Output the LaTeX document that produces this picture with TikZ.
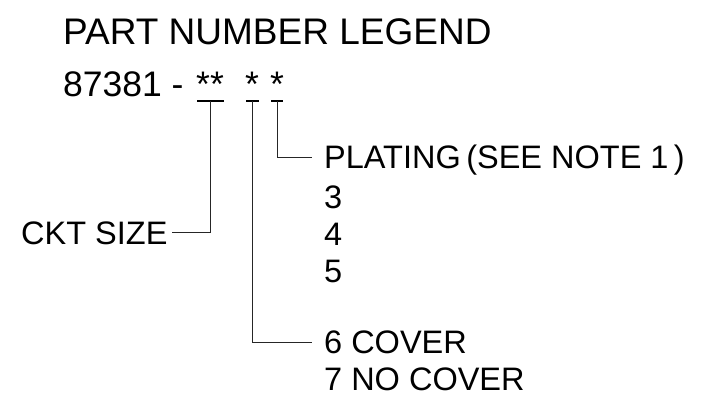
\documentclass[tikz,border=0pt]{standalone}
\usepackage{fontspec}
\setmainfont{Liberation Sans}
\begin{document}
\begin{tikzpicture}[x=1pt,y=-1pt,
  big/.style={inner sep=0pt, anchor=base west, font=\fontsize{35.5}{40}\selectfont},
  ttl/.style={inner sep=0pt, anchor=base west, font=\fontsize{37}{42}\selectfont},
  lbl/.style={inner sep=0pt, anchor=base west, font=\fontsize{32.5}{38}\selectfont},
  lead/.style={draw=black!85, line width=0.9pt},
  bar/.style={draw=black, line width=1.3pt}]
\useasboundingbox (0,0) rectangle (714,406);
% title and part number
\node[ttl] (title) at (63,45) {PART NUMBER LEGEND};
\node[big] (pn) at (63,97) {87381 -};
\node[big] (s1) at (196,97) {**};
\node[big] (s2) at (245,97) {*};
\node[big] (s3) at (270,97) {*};
% underline bars
\coordinate (b1l) at (197,101); \coordinate (b1r) at (224,101);
\coordinate (b2l) at (246,101); \coordinate (b2r) at (259,101);
\coordinate (b3l) at (271,101); \coordinate (b3r) at (283,101);
\draw[bar] (b1l) -- (b1r);
\draw[bar] (b2l) -- (b2r);
\draw[bar] (b3l) -- (b3r);
\coordinate (u1) at (210.5,101);
\coordinate (u2) at (252.5,101);
\coordinate (u3) at (277,101);
% labels
\node[lbl] (plating) at (324,169) {PLATING\,(SEE NOTE 1\,)};
\node[lbl] (n3) at (324,208) {3};
\node[lbl] (n4) at (324,245) {4};
\node[lbl] (n5) at (324,282) {5};
\node[lbl] (ckt) at (21,244) {CKT SIZE};
\node[lbl] (c6) at (324,353) {6 COVER};
\node[lbl] (c7) at (324,390) {7 NO COVER};
% hook ends
\coordinate (h1) at (172,232);
\coordinate (h2) at (312,342);
\coordinate (h3) at (312,157);
\draw[lead] (u1) |- (h1);
\draw[lead] (u2) |- (h2);
\draw[lead] (u3) |- (h3);
\end{tikzpicture}
\end{document}
